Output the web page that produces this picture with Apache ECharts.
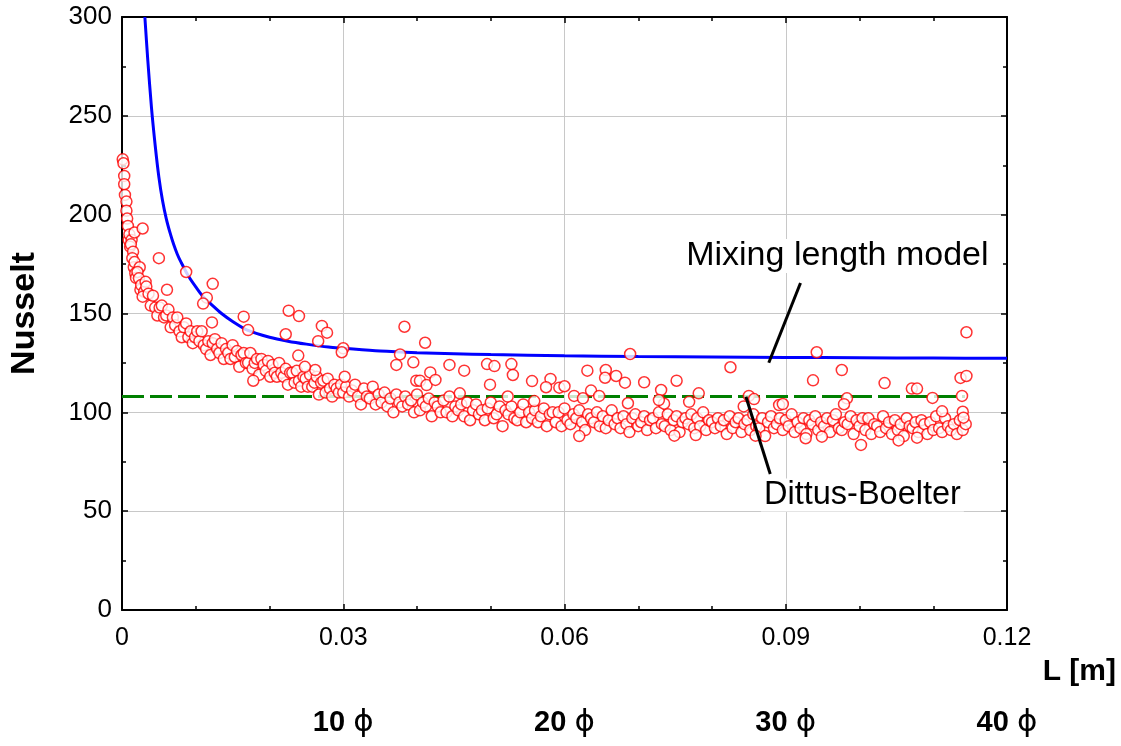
<!DOCTYPE html>
<html>
<head>
<meta charset="utf-8">
<script src="https://cdn.jsdelivr.net/npm/echarts@6/dist/echarts.min.js"></script>
<style>
html,body{margin:0;padding:0;background:#fff;}
#chart{width:1121px;height:746px;}
</style>
</head>
<body>
<div id="chart"></div>
<script>
// ---- data ----
const xTickLabels = ['0', '0.03', '0.06', '0.09', '0.12'];
const diamTickValues = [0.03, 0.06, 0.09, 0.12];
const diamTickNames = ['10', '20', '30', '40'];

// Mixing length model curve
const mixingLength = [
  [0.0031,300],[0.0035,278],[0.0040,254],[0.0045,235],[0.0050,219],[0.0055,207],
  [0.0060,198],[0.0065,191],[0.0070,185],[0.0075,180],[0.0080,176],[0.0090,169],
  [0.0100,163.5],[0.0110,158.5],[0.0120,155],[0.0135,150],[0.0150,146],[0.0170,141.6],
  [0.0200,138],[0.0225,136],[0.0250,134.5],[0.0280,133],[0.0300,132.4],[0.0350,131],
  [0.0400,130.2],[0.0450,129.7],[0.0500,129.2],[0.0600,128.6],[0.0700,128.2],[0.0800,128],
  [0.0900,127.8],[0.1000,127.6],[0.1100,127.5],[0.1200,127.3]
];

// Dittus-Boelter correlation
const dittusBoelter = [[0, 108], [0.1143, 108]];

// measured points: inlet column
const nuInlet = [
  [0.0001,228],[0.0002,226],[0.0003,219.6],[0.0003,215.4],[0.0004,210],[0.0006,206.6],[0.0006,202],
  [0.0007,198],[0.0008,194.3],[0.0009,187.2],[0.0010,190],[0.0013,187.2],[0.0011,183.8],[0.0012,185],
  [0.0015,181.3],[0.0014,178],[0.0016,173.4],[0.0017,176],[0.0024,173.4],[0.0018,170.3],[0.0019,168],
  [0.0021,171],[0.0023,167.8],[0.0025,162],[0.0026,164.4],[0.0030,161],[0.0032,166],[0.0033,163.6],
  [0.0028,158.5]
];

// measured points: main band
const nuBand = [
  [0.0036,160],[0.0039,154],[0.0042,159],[0.0045,153],[0.0048,149],[0.0051,153],[0.0054,154],[0.0057,148],
  [0.0060,149],[0.0063,152],[0.0066,143],[0.0069,148],[0.0072,144],[0.0075,148],[0.0078,141],[0.0081,138],
  [0.0084,143],[0.0087,145],[0.0090,138],[0.0093,141],[0.0096,135],[0.0099,138],[0.0102,141],[0.0105,136],
  [0.0108,141],[0.0111,134],[0.0114,132],[0.0117,136],[0.0120,129],[0.0123,135],[0.0126,137],[0.0129,132],
  [0.0132,130],[0.0135,135],[0.0138,127],[0.0141,132],[0.0144,130],[0.0147,127],[0.0150,134],[0.0153,128],
  [0.0156,131],[0.0159,123],[0.0162,129],[0.0165,130],[0.0168,125],[0.0171,125],[0.0174,130],[0.0177,122],
  [0.0180,125],[0.0183,127],[0.0186,119],[0.0189,127],[0.0192,124],[0.0195,121],[0.0198,126],[0.0201,118],
  [0.0204,124],[0.0207,120],[0.0210,118],[0.0213,125],[0.0216,120],[0.0219,118],[0.0222,122],[0.0225,114],
  [0.0228,120],[0.0231,120],[0.0234,115],[0.0237,121],[0.0240,116],[0.0243,113],[0.0246,118],[0.0249,117],
  [0.0252,113],[0.0255,119],[0.0258,113],[0.0261,115],[0.0264,118],[0.0267,109],[0.0270,115],[0.0273,116],
  [0.0276,110],[0.0279,117],[0.0282,112],[0.0285,108],[0.0288,114],[0.0291,112],[0.0294,110],[0.0297,114],
  [0.0300,110],
  [0.0304,113],[0.0308,108],[0.0312,111],[0.0316,114],[0.0320,108],[0.0324,104],[0.0328,112],[0.0332,108],
  [0.0336,107],[0.0340,113],[0.0344,104],[0.0348,109],[0.0352,105],[0.0356,110],[0.0360,103],[0.0364,107],
  [0.0368,100],[0.0372,109],[0.0376,105],[0.0380,103],[0.0384,108],[0.0388,104],[0.0392,106],[0.0396,100],
  [0.0400,109],[0.0404,101],[0.0408,105],[0.0412,103],[0.0416,107],[0.0420,98],[0.0424,105],[0.0428,103],
  [0.0432,100],[0.0436,106],[0.0440,100],[0.0444,108],[0.0448,98],[0.0452,103],[0.0456,101],[0.0460,104],
  [0.0464,98],[0.0468,105],[0.0472,96],[0.0476,101],[0.0480,104],[0.0484,99],[0.0488,101],[0.0492,96],
  [0.0496,102],[0.0500,105],[0.0504,97],[0.0508,99],[0.0512,103],[0.0516,93],[0.0520,101],[0.0524,99],
  [0.0528,103],[0.0532,97],[0.0536,96],[0.0540,100],[0.0544,104],[0.0548,95],[0.0552,100],[0.0556,97],
  [0.0560,101],[0.0564,95],[0.0568,98],[0.0572,102],[0.0576,93],[0.0580,99],[0.0584,100],[0.0588,95],
  [0.0592,100],[0.0596,93],[0.0600,102],[0.0604,96],[0.0608,94],[0.0612,99],[0.0616,97],[0.0620,101],
  [0.0624,95],[0.0628,91],[0.0632,99],[0.0636,97],[0.0640,95],[0.0644,100],[0.0648,93],[0.0652,98],
  [0.0656,92],[0.0660,96],[0.0664,101],[0.0668,94],[0.0672,97],[0.0676,92],[0.0680,98],[0.0684,94],
  [0.0688,90],[0.0692,97],[0.0696,99],[0.0700,93],[0.0704,95],[0.0708,98],[0.0712,91],[0.0716,96],
  [0.0720,97],[0.0724,92],[0.0728,100],[0.0732,94],[0.0736,93],[0.0740,99],[0.0744,91],[0.0748,96],
  [0.0752,98],[0.0756,90],[0.0760,95],[0.0764,97],[0.0768,94],[0.0772,99],[0.0776,92],[0.0780,97],
  [0.0784,93],[0.0788,100],[0.0792,91],[0.0796,96],[0.0800,95],[0.0804,92],[0.0808,97],[0.0812,93],
  [0.0816,96],[0.0820,89],[0.0824,98],[0.0828,92],[0.0832,95],[0.0836,97],[0.0840,90],[0.0844,94],
  [0.0848,96],[0.0852,91],[0.0856,99],[0.0860,93],[0.0864,92],[0.0868,97],[0.0872,88],[0.0876,95],
  [0.0880,98],[0.0884,92],[0.0888,94],[0.0892,97],[0.0896,91],[0.0900,96],[0.0904,93],[0.0908,99],
  [0.0912,90],[0.0916,95],[0.0920,92],[0.0924,97],[0.0928,89],[0.0932,96],[0.0936,94],[0.0940,98],
  [0.0944,91],[0.0948,95],[0.0952,93],[0.0956,97],[0.0960,90],[0.0964,96],[0.0968,99],[0.0972,92],
  [0.0976,91],[0.0980,95],[0.0984,94],[0.0988,98],[0.0992,89],[0.0996,96],[0.1000,93],[0.1004,97],
  [0.1008,91],[0.1012,97],[0.1016,89],[0.1020,94],[0.1024,93],[0.1028,90],[0.1032,98],[0.1036,92],
  [0.1040,95],[0.1044,89],[0.1048,96],[0.1052,91],[0.1056,94],[0.1060,88],[0.1064,97],[0.1068,93],
  [0.1072,92],[0.1076,95],[0.1080,90],[0.1084,96],[0.1088,94],[0.1092,89],[0.1096,95],[0.1100,91],
  [0.1104,98],[0.1108,92],[0.1112,90],[0.1116,97],[0.1120,93],[0.1124,91],[0.1128,94],[0.1132,89],
  [0.1136,96],[0.1140,91],[0.1144,94]
];

// measured points: scattered values away from the band
const nuOutliers = [
  [0.0017,191],[0.0028,193],[0.0050,178],[0.0087,171],[0.0061,162],[0.0123,165],[0.0115,158],[0.0110,155],
  [0.0122,145.5],[0.0165,148.4],[0.0171,141.6],[0.0226,151.4],[0.0240,148.7],[0.0222,139.5],[0.0271,143.7],
  [0.0278,140.3],[0.0266,136],[0.0300,132.4],[0.0298,130.4],[0.0239,128.7],[0.0178,116],[0.0262,121.4],
  [0.0248,123],[0.0302,118],[0.0383,143.3],[0.0411,135.2],[0.0377,129.3],[0.0372,124],[0.0395,125.3],
  [0.0444,124],[0.0464,121.1],[0.0495,124.4],[0.0505,123.4],[0.0418,120.2],[0.0399,116],[0.0404,116],
  [0.0413,113.8],[0.0425,116.4],[0.0499,114],[0.0458,109.6],[0.0528,124.4],[0.0530,118.9],[0.0556,115.8],
  [0.0581,116.9],[0.0575,112.7],[0.0593,112.5],[0.0600,113.2],[0.0631,121.1],[0.0656,121.4],[0.0655,117.5],
  [0.0670,118.4],[0.0682,115],[0.0689,129.5],[0.0708,115.2],[0.0731,111.3],[0.0752,116],[0.0825,122.8],
  [0.0782,109.6],[0.0769,105.3],[0.0942,130.4],[0.0976,121.4],[0.0937,116.2],[0.1034,114.8],[0.1071,112],
  [0.1078,112],[0.1145,140.5],[0.1137,117.4],[0.1145,118.4],[0.1099,107.3],[0.1139,108.3],[0.0983,107.1],
  [0.0850,108.3],[0.0857,106.7],[0.0636,111],[0.0613,108.3],[0.0625,107.1],[0.0647,108.3],[0.0686,104.6],
  [0.0559,105.7],[0.0523,108],[0.0620,88],[0.0749,88.2],[0.0778,88.5],[0.0859,88.2],[0.1002,83.5],
  [0.0927,86.9],[0.1053,85.8],[0.1078,87.2],[0.0949,87.7],[0.0891,103.7],[0.0896,104.2],[0.0979,104.1],
  [0.1112,100.5],[0.0735,104.4],[0.0728,106.2],[0.0843,103],[0.1140,100.3],[0.1141,97.3]
];

// annotation leader lines and label anchors
const leaderMixing = [[0.0877, 125.1], [0.0920, 165.4]];
const leaderDittus = [[0.0846, 107.9], [0.0879, 68.8]];
const labelMixing = { text: 'Mixing length model', at: [0.0970, 179.1] };
const labelDittus = { text: 'Dittus-Boelter', at: [0.1004, 58.2] };

// ---- chart ----
const FONT = '"Liberation Sans", Arial, Helvetica, sans-serif';
const chart = echarts.init(document.getElementById('chart'), null, { renderer: 'canvas' });

const commonTick = { show: true, inside: true, length: 6, lineStyle: { color: '#000', width: 1.5 } };
const commonMinor = { show: true, length: 4, lineStyle: { color: '#000', width: 1.5 } };
const boxLine = { show: true, onZero: false, lineStyle: { color: '#000', width: 2 } };

function xLabel(v) {
  const i = Math.round(v / 0.03);
  return xTickLabels[i] !== undefined ? xTickLabels[i] : '';
}
function diamLabel(v) {
  const i = diamTickValues.findIndex(t => Math.abs(t - v) < 1e-9);
  return i < 0 ? '' : '{n|' + diamTickNames[i] + '}{s| }{p|\u03D5}';
}

const option = {
  animation: false,
  backgroundColor: '#fff',
  grid: { left: 120, right: 114, top: 17, bottom: 136, containLabel: false },
  xAxis: [
    {
      type: 'value', position: 'bottom', min: 0, max: 0.12, interval: 0.03,
      axisLine: boxLine, axisTick: commonTick,
      minorTick: Object.assign({ splitNumber: 3 }, commonMinor),
      splitLine: { show: true, lineStyle: { color: '#c8c8c8', width: 1 } },
      axisLabel: { show: true, formatter: xLabel, fontSize: 25, color: '#000', fontFamily: FONT, margin: 16 }
    },
    {
      type: 'value', position: 'top', min: 0, max: 0.12, interval: 0.03,
      axisLine: boxLine, axisTick: commonTick,
      minorTick: Object.assign({ splitNumber: 3 }, commonMinor),
      splitLine: { show: false }, axisLabel: { show: false }
    },
    {
      type: 'value', position: 'bottom', offset: 97, min: 0, max: 0.12, interval: 0.03,
      axisLine: { show: false }, axisTick: { show: false }, splitLine: { show: false },
      axisLabel: {
        show: true, formatter: diamLabel, margin: 0, color: '#000',
        rich: {
          n: { fontSize: 29, fontWeight: 'bold', fontFamily: FONT, color: '#000' },
          s: { fontSize: 29, fontFamily: FONT, color: '#000' },
          p: { fontSize: 31, fontFamily: '"DejaVu Sans", ' + FONT, color: '#000' }
        }
      }
    }
  ],
  yAxis: [
    {
      type: 'value', position: 'left', min: 0, max: 300, interval: 50,
      axisLine: boxLine, axisTick: commonTick,
      minorTick: Object.assign({ splitNumber: 2 }, commonMinor),
      splitLine: { show: true, lineStyle: { color: '#c8c8c8', width: 1 } },
      axisLabel: { show: true, fontSize: 26, color: '#000', fontFamily: FONT, margin: 10 },
      name: 'Nusselt', nameLocation: 'middle', nameGap: 80, nameRotate: 90,
      nameTextStyle: { fontSize: 34, fontWeight: 'bold', color: '#000', fontFamily: FONT }
    },
    {
      type: 'value', position: 'right', min: 0, max: 300, interval: 50,
      axisLine: boxLine, axisTick: commonTick,
      minorTick: Object.assign({ splitNumber: 2 }, commonMinor),
      splitLine: { show: false }, axisLabel: { show: false }
    }
  ],
  graphic: [
    {
      type: 'text', right: 5, top: 657, z: 10,
      style: { text: 'L [m]', fill: '#000', font: 'bold 30px ' + FONT }
    }
  ],
  series: [
    {
      name: 'Dittus-Boelter', type: 'line', data: dittusBoelter, showSymbol: false, symbol: 'none',
      xAxisIndex: 0, yAxisIndex: 0, z: 2,
      lineStyle: { color: '#008000', width: 3, type: [22, 6] }
    },
    {
      name: 'Mixing length model', type: 'line', data: mixingLength, showSymbol: false, symbol: 'none',
      xAxisIndex: 0, yAxisIndex: 0, z: 2, smooth: 0.3, clip: true,
      lineStyle: { color: '#0000ff', width: 3 }
    },
    {
      name: 'Measured', type: 'scatter', data: nuInlet.concat(nuBand, nuOutliers),
      xAxisIndex: 0, yAxisIndex: 0, z: 3, symbol: 'circle', symbolSize: 11,
      itemStyle: { color: '#ffffff', borderColor: '#ff0000', borderWidth: 1.5 }
    },
    {
      name: 'annotations', type: 'line', data: [], xAxisIndex: 0, yAxisIndex: 0, z: 5,
      markLine: {
        silent: true, symbol: ['none', 'none'], animation: false,
        label: { show: false },
        lineStyle: { color: '#000', width: 3, type: 'solid' },
        data: [
          [{ coord: leaderMixing[0] }, { coord: leaderMixing[1] }],
          [{ coord: leaderDittus[0] }, { coord: leaderDittus[1] }]
        ]
      },
      markPoint: {
        silent: true, symbol: 'rect', symbolSize: 0, animation: false,
        label: {
          show: true, position: 'inside', color: '#000', fontFamily: FONT,
          backgroundColor: '#fff', padding: [0, 3]
        },
        data: [
          { coord: labelMixing.at, label: { formatter: labelMixing.text, fontSize: 34 } },
          { coord: labelDittus.at, label: { formatter: labelDittus.text, fontSize: 32.5 } }
        ]
      }
    }
  ]
};
chart.setOption(option);
</script>
</body>
</html>
